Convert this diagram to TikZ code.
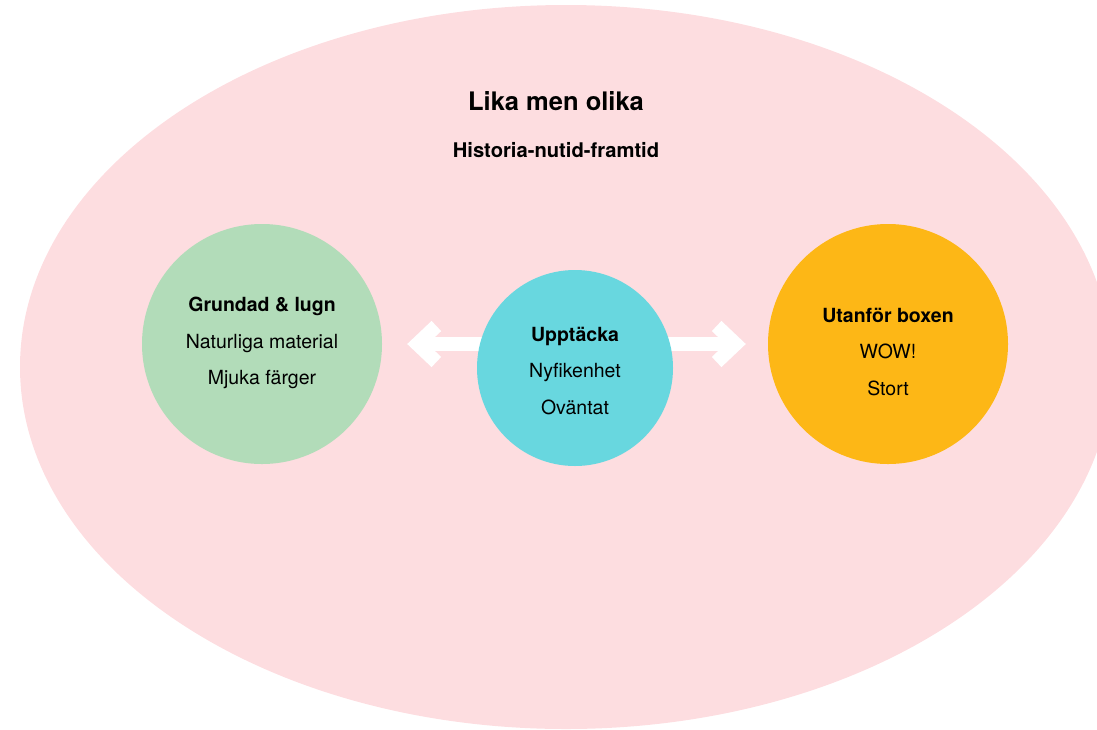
\documentclass[tikz,border=0pt]{standalone}
\usepackage{fontspec}
\setmainfont{TeX Gyre Heros}
\usepackage{tikz}
\usetikzlibrary{arrows.meta,positioning}
\usepackage{xcolor}
\definecolor{likapink}{RGB}{253,221,224}
\definecolor{lugngreen}{RGB}{178,220,185}
\definecolor{upptcyan}{RGB}{104,215,223}
\definecolor{wowyellow}{RGB}{253,183,22}
\tikzstyle{bubble} = [circle, inner sep=0pt, draw=none]
\tikzstyle{bubbletext} = [align=center, inner sep=0pt, font=\fontsize{19.5}{36.5}\selectfont]
\tikzstyle{pil} = [line width=14pt, white, {Straight Barb[length=19pt,width=36pt]}-{Straight Barb[length=19pt,width=36pt]}, shorten <=25pt, shorten >=22pt]

\begin{document}
\begin{tikzpicture}[x=1pt, y=-1pt]
\useasboundingbox (0,0) rectangle (1097,729);
\clip (0,0) rectangle (1097,729);

% Outer ellipse
\fill[likapink] (566,367) ellipse [x radius=546, y radius=362];

% Heading
\node[font=\fontsize{25.5}{30}\selectfont\bfseries] (title) at (556,101) {Lika men olika};
\node[font=\fontsize{20.2}{24}\selectfont\bfseries] (subtitle) at (556,150) {Historia-nutid-framtid};

% Outer circles
\node[bubble, fill=lugngreen, minimum size=240pt] (lugn) at (262,344) {};
\node[bubble, fill=wowyellow, minimum size=240pt] (boxen) at (888,344) {};

% Arrows behind the middle circle
\draw[pil] (lugn) -- (boxen);

% Middle circle
\node[bubble, fill=upptcyan, minimum size=196pt] (upptacka) at (575,368) {};

% Texts
\node[bubbletext] (lugntext) at ([yshift=1pt]lugn.center) {\textbf{Grundad \& lugn}\\Naturliga material\\Mjuka färger};
\node[bubbletext] (upptackatext) at ([yshift=-3pt]upptacka.center) {\textbf{Upptäcka}\\Nyfikenhet\\Oväntat};
\node[bubbletext] (boxentext) at ([yshift=-8pt]boxen.center) {\textbf{Utanför boxen}\\WOW!\\Stort};
\end{tikzpicture}
\end{document}
